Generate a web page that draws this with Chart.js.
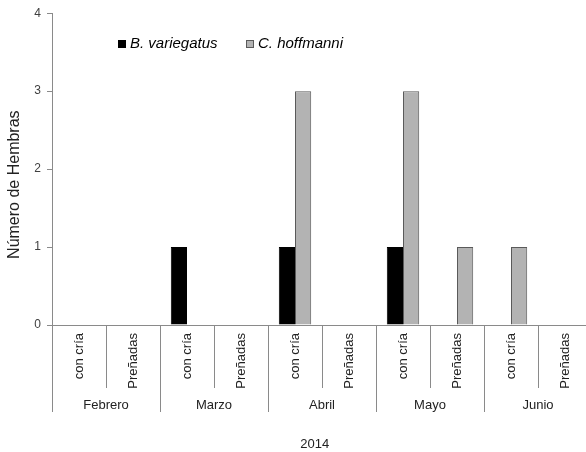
<!DOCTYPE html>
<html>
<head>
<meta charset="utf-8">
<script src="https://cdn.jsdelivr.net/npm/chart.js@4/dist/chart.umd.min.js"></script>
<style>
  html, body { margin: 0; padding: 0; background: #fff; overflow: hidden; }
  canvas { display: block; }
</style>
</head>
<body>
<canvas id="grafico" width="600" height="452"></canvas>
<script>
// datos
var subgrupos = ['con cría', 'Preñadas', 'con cría', 'Preñadas', 'con cría', 'Preñadas', 'con cría', 'Preñadas', 'con cría', 'Preñadas'];
var meses = ['Febrero', 'Marzo', 'Abril', 'Mayo', 'Junio'];
var bVariegatus = [0, 0, 1, 0, 1, 0, 1, 0, 0, 0];
var cHoffmanni = [0, 0, 0, 0, 3, 0, 3, 1, 1, 0];
var yTicks = [0, 1, 2, 3, 4];

var fuente = 'Liberation Sans, Arial, sans-serif';
Chart.defaults.font.family = fuente;

// lineas divisorias del eje x agrupado
var divisores = {
  id: 'divisores',
  afterDraw: function (chart) {
    var x = chart.scales.x, c = chart.ctx;
    var w = (x.right - x.left) / subgrupos.length;
    c.save();
    c.strokeStyle = '#8a8a8a';
    c.lineWidth = 1;
    for (var i = 0; i < subgrupos.length; i++) {
      var px = Math.round(x.getPixelForValue(i) - w / 2) + 0.5;
      var fin = (i % 2 === 0) ? x.bottom + 24 : x.bottom;
      c.beginPath();
      c.moveTo(px, x.top);
      c.lineTo(px, fin);
      c.stroke();
    }
    c.restore();
  }
};

// leyenda dentro del area
var leyenda = {
  id: 'leyenda',
  afterDraw: function (chart) {
    var c = chart.ctx;
    var pos = [118, 246];
    c.save();
    c.font = 'italic 15px ' + fuente;
    c.textBaseline = 'middle';
    chart.data.datasets.forEach(function (ds, i) {
      c.fillStyle = ds.backgroundColor;
      c.fillRect(pos[i], 40, 8, 8);
      c.strokeStyle = ds.borderColor;
      c.strokeRect(pos[i] + 0.5, 40.5, 7, 7);
      c.fillStyle = '#000';
      c.fillText(ds.label, pos[i] + 12, 44);
    });
    c.restore();
  }
};

new Chart(document.getElementById('grafico'), {
  type: 'bar',
  data: {
    labels: subgrupos,
    datasets: [{
      label: 'B. variegatus',
      data: bVariegatus,
      backgroundColor: '#000000',
      borderColor: '#000000',
      borderWidth: 1
    }, {
      label: 'C. hoffmanni',
      data: cHoffmanni,
      backgroundColor: '#b3b3b3',
      borderColor: '#5a5a5a',
      borderWidth: 1
    }]
  },
  options: {
    responsive: false,
    animation: false,
    categoryPercentage: 0.6,
    barPercentage: 1,
    layout: { padding: { top: 12, right: 8, left: 0, bottom: 0 } },
    plugins: {
      legend: { display: false },
      tooltip: { enabled: false }
    },
    scales: {
      x: {
        grid: { display: false, drawTicks: false },
        border: { display: true, color: '#8a8a8a' },
        ticks: {
          minRotation: 90, maxRotation: 90, padding: 8,
          color: '#222', font: { size: 13 }
        },
        afterFit: function (s) { s.height = 63; }
      },
      x2: {
        type: 'category',
        position: 'bottom',
        labels: meses,
        offset: true,
        grid: { display: false, drawTicks: false },
        border: { display: false },
        ticks: { padding: 10, color: '#222', font: { size: 13 } },
        title: { display: true, text: '2014    ', color: '#222', font: { size: 13 }, padding: 0 },
        afterFit: function (s) { s.height = 64; }
      },
      y: {
        min: 0, max: 4,
        afterBuildTicks: function (s) { s.ticks = yTicks.map(function (v) { return { value: v }; }); },
        grid: { drawOnChartArea: false, tickLength: 5, color: '#8a8a8a' },
        border: { display: true, color: '#8a8a8a' },
        ticks: { padding: 6, color: '#404040', font: { size: 12 } },
        title: { display: true, text: 'Número de Hembras       ', color: '#222', font: { size: 16 }, padding: 5 },
        afterFit: function (s) { s.width = 52; }
      }
    }
  },
  plugins: [divisores, leyenda]
});
</script>
</body>
</html>
